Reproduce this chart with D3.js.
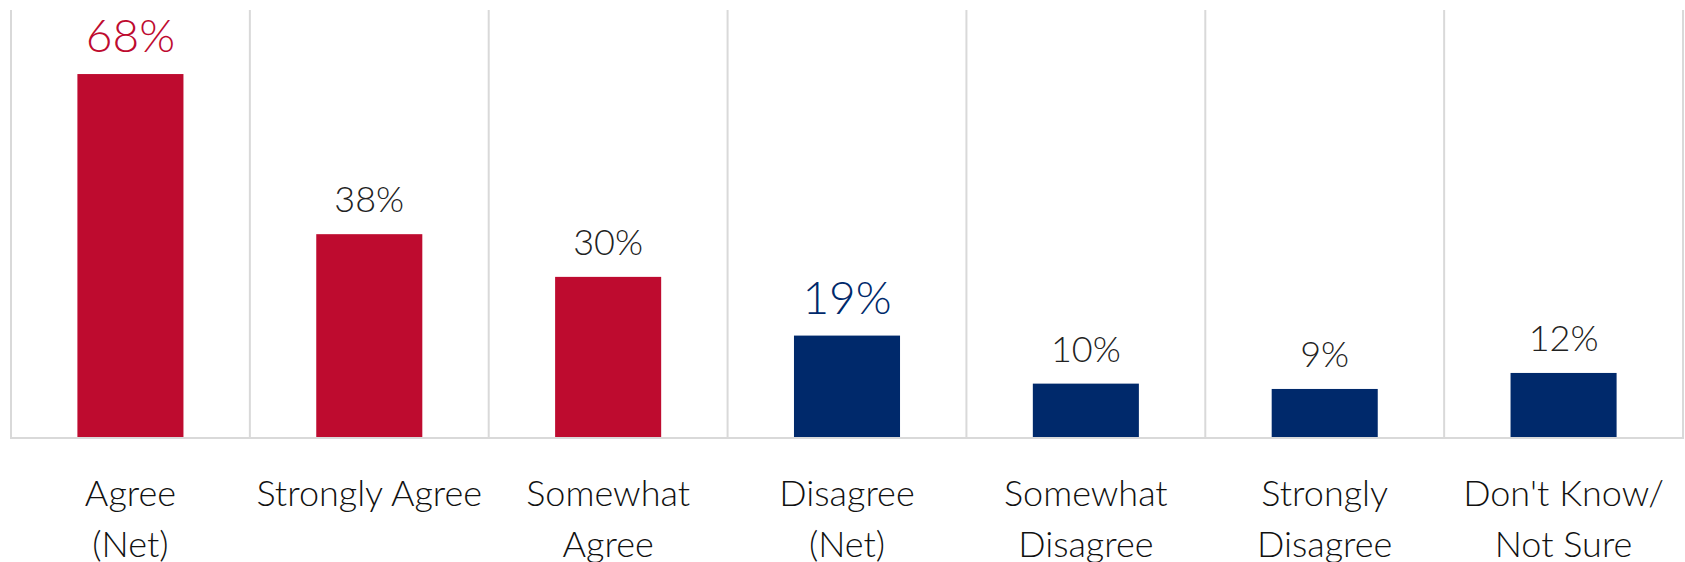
<!DOCTYPE html>
<html>
<head>
<meta charset="utf-8">
<script src="https://cdn.jsdelivr.net/npm/d3@7"></script>
<style>
  html, body { margin: 0; padding: 0; background: #fff; }
  svg { display: block; font-family: "Lato", "Open Sans", sans-serif; }
</style>
</head>
<body>
<svg id="chart" width="1685" height="562"></svg>
<script>
// Survey responses, percent of respondents
const categories = [
  "Agree\n(Net)",
  "Strongly Agree",
  "Somewhat\nAgree",
  "Disagree\n(Net)",
  "Somewhat\nDisagree",
  "Strongly\nDisagree",
  "Don't Know/\nNot Sure"
];
const values = [68, 38, 30, 19, 10, 9, 12];
const groups = ["agree", "agree", "agree", "disagree", "disagree", "disagree", "unsure"];
const netFlags = [true, false, false, true, false, false, false];

const RED = "#BE0B2F";
const NAVY = "#00296B";

const svg = d3.select("#chart");
const margin = { left: 11, right: 2, top: 10, bottom: 125 };
const W = 1685, H = 562;

const x = d3.scaleBand()
  .domain(d3.range(categories.length))
  .range([margin.left, W - margin.right])
  .paddingInner(0.556)
  .paddingOuter(0.278);

const bandX = d3.scaleBand()
  .domain(d3.range(categories.length))
  .range([margin.left, W - margin.right]);

const y = d3.scaleLinear().domain([0, 80]).range([H - margin.bottom, margin.top]);

const fillFor = i => groups[i] === "agree" ? RED : NAVY;

// vertical category separators
const seps = d3.range(categories.length + 1).map(i => i === categories.length ? bandX.range()[1] : bandX(i));
svg.append("g")
  .selectAll("line")
  .data(seps)
  .join("line")
  .attr("x1", d => d).attr("x2", d => d)
  .attr("y1", y(80)).attr("y2", y(0))
  .attr("stroke", "#d9d9d9")
  .attr("stroke-width", 2);

// bars
svg.append("g")
  .selectAll("rect")
  .data(values)
  .join("rect")
  .attr("x", (d, i) => x(i))
  .attr("width", x.bandwidth())
  .attr("y", d => y(d))
  .attr("height", d => y(0) - y(d))
  .attr("fill", (d, i) => fillFor(i));

// baseline
svg.append("line")
  .attr("x1", bandX.range()[0] - 1).attr("x2", bandX.range()[1] + 1)
  .attr("y1", y(0) + 1).attr("y2", y(0) + 1)
  .attr("stroke", "#d9d9d9")
  .attr("stroke-width", 2);

// value labels
svg.append("g")
  .selectAll("text")
  .data(values)
  .join("text")
  .attr("x", (d, i) => x(i) + x.bandwidth() / 2)
  .attr("y", d => y(d) - 22)
  .attr("text-anchor", "middle")
  .attr("font-weight", 300)
  .attr("font-size", (d, i) => netFlags[i] ? 46 : 36)
  .attr("fill", (d, i) => netFlags[i] ? fillFor(i) : "#222")
  .text(d => d + "%");

// category labels
const labels = svg.append("g")
  .selectAll("text")
  .data(categories)
  .join("text")
  .attr("text-anchor", "middle")
  .attr("font-weight", 300)
  .attr("font-size", 36)
  .attr("fill", "#111");
labels.each(function(d, i) {
  const t = d3.select(this);
  d.split("\n").forEach((line, k) => {
    t.append("tspan")
      .attr("x", x(i) + x.bandwidth() / 2)
      .attr("y", 506 + k * 51)
      .text(line);
  });
});
</script>
</body>
</html>
